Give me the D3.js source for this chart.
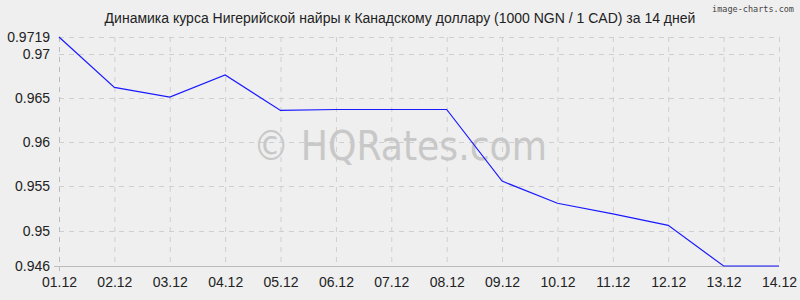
<!DOCTYPE html>
<html><head><meta charset="utf-8">
<script src="https://cdn.jsdelivr.net/npm/d3@7"></script>
<style>body{margin:0;background:#efefef;} svg{display:block;}</style>
</head><body>
<svg id="c" width="800" height="300"></svg>
<script>
const categories = ["01.12","02.12","03.12","04.12","05.12","06.12","07.12","08.12","09.12","10.12","11.12","12.12","13.12","14.12"];
const values = [0.9719,0.9662,0.9651,0.9676,0.9636,0.9637,0.9637,0.9637,0.9556,0.9531,0.9519,0.9506,0.946,0.946];
const yTicks = [0.946,0.95,0.955,0.96,0.965,0.97,0.9719];
const yTickLabels = ["0.946","0.95","0.955","0.96","0.965","0.97","0.9719"];
const title = "Динамика курса Нигерийской найры к Канадскому доллару (1000 NGN / 1 CAD) за 14 дней";

const svg = d3.select("#c");
const L=59, R=779, T=37, B=266;
svg.append("rect").attr("width",800).attr("height",300).attr("fill","#efefef");

const x = d3.scalePoint().domain(categories).range([L,R]);
const y = d3.scaleLinear().domain([0.946,0.9719]).range([B,T]);

// grid
const g = svg.append("g");
g.selectAll(".vg").data(categories).enter().append("line")
  .attr("x1",d=>x(d)+0.5).attr("x2",d=>x(d)+0.5).attr("y1",T).attr("y2",B)
  .attr("stroke","#cfcfcf").attr("stroke-dasharray","5,5");
g.selectAll(".hg").data(yTicks).enter().append("line")
  .attr("x1",L).attr("x2",R).attr("y1",d=>Math.round(y(d))+0.5).attr("y2",d=>Math.round(y(d))+0.5)
  .attr("stroke","#cfcfcf").attr("stroke-dasharray","5,5");
// axis lines
svg.append("line").attr("x1",L+0.5).attr("x2",L+0.5).attr("y1",T).attr("y2",B+5)
  .attr("stroke","#bbbbbb").attr("stroke-dasharray","5,5");
svg.append("line").attr("x1",L-5).attr("x2",R).attr("y1",B+0.5).attr("y2",B+0.5)
  .attr("stroke","#bbbbbb");

// watermark
svg.append("text").attr("x",400).attr("y",160).attr("text-anchor","middle")
  .attr("font-family","DejaVu Sans, sans-serif").attr("font-size",41)
  .attr("fill","#c8c8c8").attr("textLength",294).attr("lengthAdjust","spacingAndGlyphs")
  .text("© HQRates.com");

// line
const line = d3.line().x((d,i)=>x(categories[i])).y(d=>y(d));
svg.append("path").datum(values).attr("d",line).attr("fill","none")
  .attr("stroke","#1a1aff").attr("stroke-width",1.2);

// y labels
const yAxis = d3.axisLeft(y).tickValues(yTicks).tickFormat((d,i)=>yTickLabels[i]).tickSize(0).tickPadding(9);
const ya = svg.append("g").attr("transform",`translate(${L},0)`).call(yAxis);
ya.select(".domain").remove();
ya.selectAll("text").attr("font-family","Liberation Sans, Arial, sans-serif").attr("font-size",14).attr("fill","#222");

// x labels
const xAxis = d3.axisBottom(x).tickSize(0).tickPadding(11);
const xa = svg.append("g").attr("transform",`translate(0,${B})`).call(xAxis);
xa.select(".domain").remove();
xa.selectAll("text").attr("font-family","Liberation Sans, Arial, sans-serif").attr("font-size",14).attr("fill","#222");

// title
svg.append("text").attr("x",400).attr("y",23).attr("text-anchor","middle")
  .attr("font-family","Liberation Sans, Arial, sans-serif").attr("font-size",14).attr("fill","#222")
  .text(title);
svg.append("text").attr("x",794).attr("y",12).attr("text-anchor","end")
  .attr("font-family","DejaVu Sans Mono, monospace").attr("font-size",8.5).attr("fill","#444")
  .text("image-charts.com");
</script>
</body></html>
